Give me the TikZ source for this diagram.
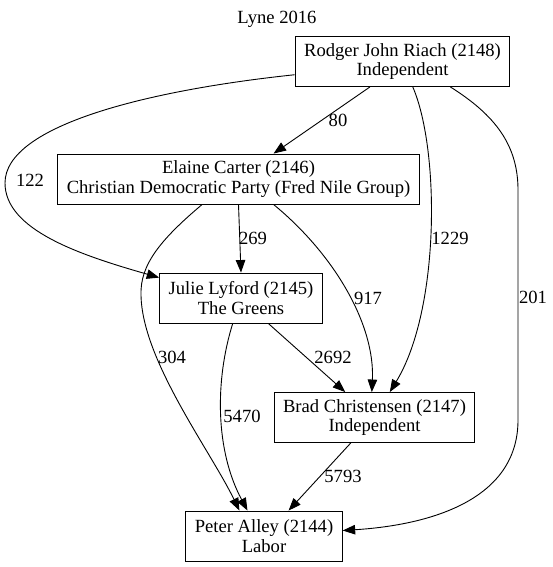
\documentclass[tikz,border=0pt]{standalone}
\usepackage{fontspec}
\setmainfont{Liberation Serif}
\usepackage{tikz}
\usetikzlibrary{arrows.meta}
\tikzset{
    every node/.append style={font=\fontsize{18.6}{19.5}\selectfont},
    cand/.style={draw,line width=0.9pt,align=center,minimum height=50pt,inner xsep=9pt,inner ysep=3pt},
    flow/.style={line width=0.9pt,-{Triangle[length=12.5pt,width=9.5pt]}}
}

\begin{document}
\begin{tikzpicture}[x=1pt,y=-1pt]
                            \useasboundingbox (0,0) rectangle (552,567);
                            \node (title) at (277,19) {Lyne 2016};
                            \node[cand] (rodger) at (402.5,61.5) {Rodger John Riach (2148)\\Independent};
                            \node[cand] (elaine) at (238.5,179) {Elaine Carter (2146)\\Christian Democratic Party (Fred Nile Group)};
                            \node[cand] (julie) at (241,298) {Julie Lyford (2145)\\The Greens};
                            \node[cand] (brad) at (374.5,417.5) {Brad Christensen (2147)\\Independent};
                            \node[cand] (peter) at (264,536) {Peter Alley (2144)\\Labor};
                            \draw[flow] (rodger.218) -- (elaine.36);
                            \draw[flow] (rodger.187) .. controls (150,90) and (5,125) .. (5,183) .. controls (5,230) and (80,255) .. (julie.166);
                            \draw[flow] (rodger.292) .. controls (440,150) and (440,310) .. (brad.59);
                            \draw[flow] (rodger.332) .. controls (495,115) and (518,145) .. (518,190) -- (518,420) .. controls (518,500) and (430,525) .. (peter.4);
                            \draw[flow] (elaine.south) -- (julie.north);
                            \draw[flow] (elaine.324) .. controls (335,255) and (375,325) .. (brad.96);
                            \draw[flow] (elaine.215) .. controls (160,240) and (140,265) .. (141,295) .. controls (142,360) and (210,450) .. (peter.134);
                            \draw[flow] (julie.317) -- (brad.139);
                            \draw[flow] (julie.252) .. controls (215,380) and (215,450) .. (peter.123);
                            \draw[flow] (brad.227) -- (peter.46);
                            \node (n80) at (338,120) {80};
                            \node (n122) at (30,180) {122};
                            \node (n1229) at (450,238) {1229};
                            \node (n201) at (533,297) {201};
                            \node (n269) at (253,238) {269};
                            \node (n917) at (368,298) {917};
                            \node (n304) at (172,357) {304};
                            \node (n2692) at (333,357) {2692};
                            \node (n5470) at (242,416) {5470};
                            \node (n5793) at (343,476) {5793};
                        \end{tikzpicture}
\end{document}
